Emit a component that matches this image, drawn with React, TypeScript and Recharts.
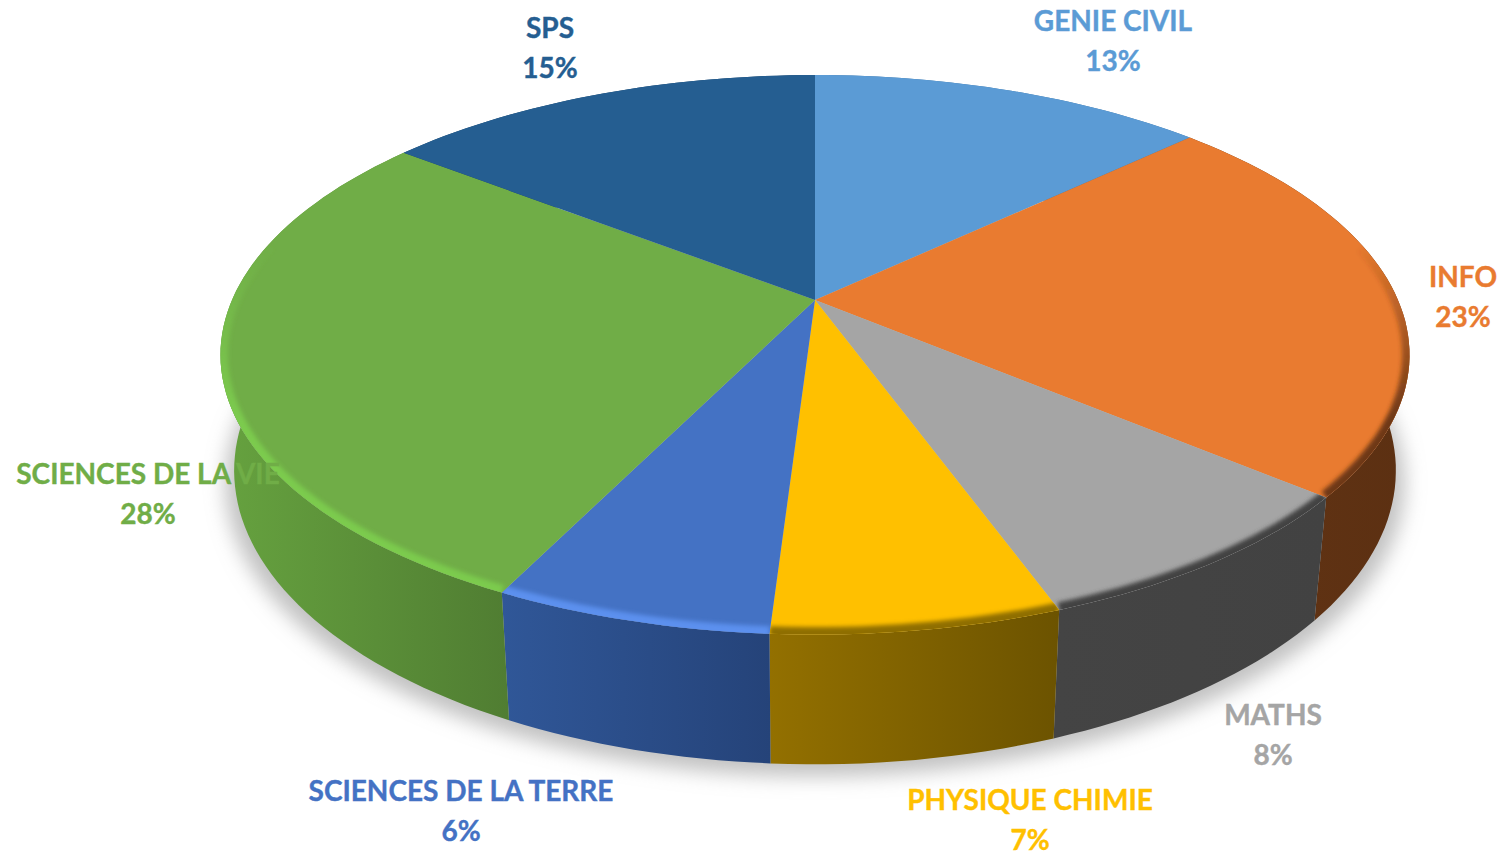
import React from "react";
import { PieChart, Pie } from "recharts";

const categories = ["GENIE CIVIL", "INFO", "MATHS", "PHYSIQUE CHIMIE", "SCIENCES DE LA TERRE", "SCIENCES DE LA VIE", "SPS"];
const shares = [13, 23.1, 8.35, 6.55, 6.3, 28.2, 14.5];
const shareLabels = ["13%", "23%", "8%", "7%", "6%", "28%", "15%"];

const faceColors = ["#5B9BD5", "#E97B30", "#A5A5A5", "#FFC000", "#4472C4", "#70AD47", "#255E91"];
const rimColors = ["#5B9BD5", "#6E3815", "#434343", "#8F6E00", "#5B90EE", "#7CCB4E", "#255E91"];
const wallLeft = ["#3F76A6", "#633414", "#444444", "#937000", "#305798", "#66A23F", "#1B4569"];
const wallRight = ["#3F76A6", "#5C3012", "#424242", "#6C5300", "#254379", "#507D32", "#1B4569"];

// label centre x / first line centre y, by category
const labelX = [1113, 1463, 1273, 1030, 461, 148, 550];
const labelY = [21, 277, 715, 800, 791, 474, 28];

const WIDTH = 1503;
const HEIGHT = 855;
const CX = 815;
const CY = 300;
const RADIUS = 583;
const SQUASH = 269 / 583;
const PERSPECTIVE = 0.196;

const data = categories.map((name, i) => ({ name, value: shares[i], fill: faceColors[i] }));

// disc coordinates -> picture, tilted with a bit of perspective
const project = (angle: number, r = 1) => {
    const a = (angle * Math.PI) / 180;
    const u = Math.cos(a) * r;
    const v = -Math.sin(a) * r;
    const w = 1 - PERSPECTIVE * v;
    return { x: CX + (RADIUS * u) / w, y: CY + (RADIUS * SQUASH * v) / w };
};

// same point on the lower disc of the slab
const lower = (p: { x: number; y: number }) => ({
    x: CX + 0.977 * (p.x - CX),
    y: CY + 113 + 1.05 * (p.y - CY),
});

const arcPoints = (start: number, end: number, r = 1) => {
    const steps = Math.max(2, Math.ceil(Math.abs(end - start) / 1.5));
    const pts = [];
    for (let i = 0; i <= steps; i++) pts.push(project(start + ((end - start) * i) / steps, r));
    return pts;
};

const toPath = (pts: { x: number; y: number }[]) =>
    pts.map((p, i) => `${i ? "L" : "M"}${p.x.toFixed(1)} ${p.y.toFixed(1)}`).join(" ");

const WallShape = (props: any) => {
    const top = arcPoints(props.startAngle, props.endAngle);
    const bottom = top.map(lower).reverse();
    return <path d={toPath([...top, ...bottom]) + " Z"} fill={`url(#wall${props.index})`} />;
};

const FaceShape = (props: any) => {
    const i = props.index;
    const edge = arcPoints(props.startAngle, props.endAngle);
    const face = `M${CX} ${CY} ` + toPath(edge).replace("M", "L") + " Z";
    // the bevel only shows on the near part of the rim, fades out towards the back
    const rim = edge.filter((p) => p.y > CY - 60);
    return (
        <g>
            <clipPath id={`faceClip${i}`}>
                <path d={face} />
            </clipPath>
            <path d={face} fill={props.fill} />
            {rim.length > 1 && (
                <g clipPath={`url(#faceClip${i})`}>
                    <path d={toPath(rim)} fill="none" stroke={`url(#rim${i})`} strokeWidth={15} filter="url(#rimBlur)" />
                </g>
            )}
        </g>
    );
};

const renderLabel = (props: any) => {
    const i = props.index;
    const style = { fontFamily: "Lato", fontWeight: 700, fontSize: 28 };
    return (
        <g key={i} stroke={faceColors[i]} strokeWidth={0.4}>
            <text x={labelX[i]} y={labelY[i] + 10} textAnchor="middle" fill={faceColors[i]} style={style}>
                {categories[i]}
            </text>
            <text x={labelX[i]} y={labelY[i] + 50} textAnchor="middle" fill={faceColors[i]} style={style}>
                {shareLabels[i]}
            </text>
        </g>
    );
};

const shadowPath = () => {
    const pts = arcPoints(0, 360).map(lower).map((p) => ({ x: CX + 1.015 * (p.x - CX), y: p.y + 12 }));
    return toPath(pts) + " Z";
};

export default function App() {
    return (
        <div style={{ position: "absolute", left: 0, top: 0, width: WIDTH, height: HEIGHT, overflow: "hidden", background: "#fff" }}>
            <PieChart width={WIDTH} height={HEIGHT} margin={{ top: 0, right: 0, bottom: 0, left: 0 }}>
                <defs>
                    <filter id="rimBlur" filterUnits="userSpaceOnUse" x={0} y={0} width={WIDTH} height={HEIGHT}>
                        <feGaussianBlur stdDeviation={2} />
                    </filter>
                    <filter id="shadowBlur" filterUnits="userSpaceOnUse" x={0} y={0} width={WIDTH} height={HEIGHT}>
                        <feGaussianBlur stdDeviation={10} />
                    </filter>
                    {categories.map((c, i) => (
                        <linearGradient key={c} id={`wall${i}`} x1="0" y1="0" x2="1" y2="0">
                            <stop offset="0%" stopColor={wallLeft[i]} />
                            <stop offset="100%" stopColor={wallRight[i]} />
                        </linearGradient>
                    ))}
                    {categories.map((c, i) => (
                        <linearGradient key={c} id={`rim${i}`} gradientUnits="userSpaceOnUse" x1="0" y1={CY - 60} x2="0" y2={CY + 120}>
                            <stop offset="0%" stopColor={rimColors[i]} stopOpacity={0} />
                            <stop offset="100%" stopColor={rimColors[i]} stopOpacity={1} />
                        </linearGradient>
                    ))}
                </defs>
                <path d={shadowPath()} fill="#a0a0a0" fillOpacity={0.65} filter="url(#shadowBlur)" />
                <Pie
                    data={data}
                    dataKey="value"
                    nameKey="name"
                    cx={CX}
                    cy={CY}
                    outerRadius={RADIUS}
                    startAngle={90}
                    endAngle={-270}
                    stroke="none"
                    shape={WallShape}
                    isAnimationActive={false}
                />
                <Pie
                    data={data}
                    dataKey="value"
                    nameKey="name"
                    cx={CX}
                    cy={CY}
                    outerRadius={RADIUS}
                    startAngle={90}
                    endAngle={-270}
                    stroke="none"
                    shape={FaceShape}
                    label={renderLabel}
                    labelLine={false}
                    isAnimationActive={false}
                />
            </PieChart>
        </div>
    );
}
